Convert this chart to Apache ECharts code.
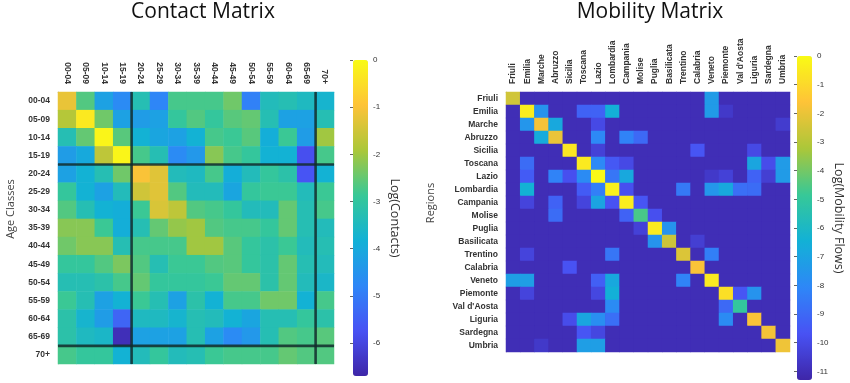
<!DOCTYPE html>
<html>
<head>
<meta charset="utf-8">
<script src="https://cdn.jsdelivr.net/npm/echarts@6/dist/echarts.min.js"></script>
<style>
  html, body { margin: 0; padding: 0; background: #ffffff; }
  #chart { width: 850px; height: 383px; }
</style>
</head>
<body>
<div id="chart"></div>
<script>
// ---------- data ----------
const ageClasses = ['00-04','05-09','10-14','15-19','20-24','25-29','30-34','35-39','40-44','45-49','50-54','55-59','60-64','65-69','70+'];
const regions = ['Friuli','Emilia','Marche','Abruzzo','Sicilia','Toscana','Lazio','Lombardia','Campania','Molise','Puglia','Basilicata','Trentino','Calabria','Veneto','Piemonte',"Val d'Aosta",'Liguria','Sardegna','Umbria'];

// Log(Contacts), rows = age class (top to bottom), columns = age class (left to right)
const contacts = [
  [-1.2,-2.65,-4.2,-4.7,-3.3,-4.8,-2.75,-2.75,-2.75,-2.4,-4.9,-3.4,-3.3,-3.5,-3.7],
  [-1.8,-0.3,-2.4,-4.2,-4.3,-4.2,-2.95,-2.65,-2.95,-2.6,-2.5,-3.3,-4.2,-4.2,-3.3],
  [-3.3,-2.5,-0.1,-2.6,-3.8,-4.1,-4.2,-3.8,-2.75,-2.85,-2.6,-3.9,-2.85,-4.3,-2.0],
  [-4.3,-4.0,-1.7,-0.1,-2.75,-3.3,-4.7,-4.4,-2.2,-2.75,-2.95,-3.8,-3.8,-5.8,-2.75],
  [-4.2,-3.8,-3.3,-2.4,-1.0,-1.3,-3.4,-3.5,-2.75,-3.9,-3.4,-2.95,-3.15,-5.7,-3.8],
  [-2.95,-3.8,-4.2,-3.4,-1.5,-1.3,-2.65,-3.4,-3.4,-4.1,-2.95,-2.85,-2.85,-3.4,-2.85],
  [-2.65,-3.3,-3.8,-3.9,-2.85,-1.4,-1.7,-2.65,-2.75,-2.95,-3.4,-3.4,-2.5,-3.3,-2.75],
  [-2.2,-2.2,-2.85,-3.9,-3.3,-2.5,-2.1,-2.0,-2.65,-2.75,-2.75,-2.95,-2.5,-3.3,-3.4],
  [-2.4,-2.2,-2.2,-3.3,-2.75,-2.75,-2.75,-2.0,-2.0,-2.6,-2.95,-3.15,-2.85,-3.4,-3.3],
  [-2.95,-2.95,-2.65,-2.3,-2.65,-3.3,-2.85,-2.85,-2.65,-2.6,-2.95,-3.15,-2.5,-3.3,-3.4],
  [-3.3,-3.3,-3.15,-2.75,-2.5,-2.95,-2.95,-2.95,-2.85,-2.5,-2.5,-3.15,-2.5,-3.4,-3.6],
  [-2.85,-3.3,-4.2,-3.8,-2.85,-3.3,-4.2,-3.15,-3.8,-2.75,-2.75,-2.4,-2.4,-3.8,-2.75],
  [-3.15,-3.7,-4.3,-5.4,-3.5,-3.5,-3.7,-3.3,-3.4,-3.8,-4.1,-3.3,-3.3,-2.95,-3.15],
  [-3.15,-3.5,-3.6,-6.5,-4.2,-4.2,-4.2,-3.3,-4.2,-4.7,-4.4,-3.3,-2.65,-2.75,-2.6],
  [-2.75,-2.95,-2.95,-3.8,-3.4,-2.95,-3.4,-3.3,-2.85,-2.75,-2.75,-2.75,-2.5,-2.65,-2.65]
];

// Log(Mobility Flows), rows = origin region (top to bottom), columns = region (left to right)
const mobility = [
  [-2.5,-11,-11,-11,-11,-11,-11,-11,-11,-11,-11,-11,-11,-11,-7.3,-11,-11,-11,-11,-11],
  [-11,-0.4,-7.6,-11,-11,-9.2,-9.2,-6.5,-11,-11,-11,-11,-11,-11,-7.3,-10.6,-11,-11,-11,-11],
  [-11,-7.5,-1.8,-6.8,-11,-11,-10.0,-11,-11,-11,-11,-11,-11,-11,-11,-11,-11,-11,-11,-10.5],
  [-11,-11,-6.7,-2.0,-11,-11,-8.0,-11,-8.2,-9.0,-11,-11,-11,-11,-11,-11,-11,-11,-11,-11],
  [-11,-11,-11,-11,-0.6,-11,-10.3,-11,-11,-11,-11,-11,-11,-9.6,-11,-11,-11,-10.0,-11,-11],
  [-11,-8.9,-11,-11,-11,-0.5,-8.0,-9.5,-10.0,-11,-11,-11,-11,-11,-11,-11,-11,-6.9,-9.9,-7.3],
  [-11,-9.4,-11,-8.2,-9.8,-7.9,-0.1,-8.6,-6.8,-11,-11,-11,-11,-11,-10.6,-10.3,-11,-9.2,-10.4,-7.3],
  [-11,-6.4,-11,-11,-11,-9.4,-8.3,-0.3,-9.8,-11,-11,-11,-8.5,-11,-7.5,-6.8,-8.8,-8.9,-11,-11],
  [-11,-10.2,-11,-9.2,-11,-10.2,-7.0,-9.7,-0.4,-9.6,-11,-11,-11,-11,-11,-11,-11,-11,-11,-11],
  [-11,-11,-11,-8.9,-11,-11,-11,-11,-9.2,-4.6,-9.8,-11,-11,-11,-11,-11,-11,-11,-11,-11],
  [-11,-11,-11,-11,-11,-11,-11,-11,-11,-10.3,-0.5,-7.6,-11,-11,-11,-11,-11,-11,-11,-11],
  [-11,-11,-11,-11,-11,-11,-11,-11,-11,-11,-7.6,-2.6,-11,-10.4,-11,-11,-11,-11,-11,-11],
  [-11,-10.2,-11,-11,-11,-11,-11,-8.6,-11,-11,-11,-11,-2.3,-11,-8.3,-11,-11,-11,-11,-11],
  [-11,-11,-11,-11,-9.7,-11,-11,-11,-11,-11,-11,-11,-11,-1.7,-11,-11,-11,-11,-11,-11],
  [-7.2,-7.2,-11,-11,-11,-11,-9.3,-6.8,-11,-11,-11,-11,-8.2,-11,-0.5,-11,-11,-11,-11,-11],
  [-11,-10.2,-11,-11,-11,-11,-10.1,-6.5,-11,-11,-11,-11,-11,-11,-11,-0.8,-9.6,-7.6,-11,-11],
  [-11,-11,-11,-11,-11,-11,-11,-7.9,-11,-11,-11,-11,-11,-11,-11,-9.0,-5.0,-11,-11,-11],
  [-11,-11,-11,-11,-9.9,-6.9,-7.8,-8.8,-11,-11,-11,-11,-11,-11,-11,-7.9,-11,-1.7,-11,-11],
  [-11,-11,-11,-11,-11,-9.6,-10.1,-11,-11,-11,-11,-11,-11,-11,-11,-11,-11,-11,-1.8,-11],
  [-11,-11,-10.6,-11,-11,-7.2,-7.2,-11,-11,-11,-11,-11,-11,-11,-11,-11,-11,-11,-11,-1.9]
];

// colour-scale ranges
const contactRange = [-6.7, 0];
const mobilityRange = [-11.3, 0];
// positions (in cells) of the thick divider lines on the contact matrix
const contactDividers = [4, 14];

// ---------- build ----------
const parula = ['#3e26a8','#4852f4','#2e87f7','#12b1d6','#37c897','#abc739','#fec338','#f9fb15'];

function toCells(matrix) {
  const out = [];
  matrix.forEach((row, r) => row.forEach((v, c) => out.push([c, r, v])));
  return out;
}

const labelFont = 'Liberation Sans, Arial, sans-serif';
const nameFont = 'Open Sans, sans-serif';

const catX = (data, gridIndex) => ({
  type: 'category', gridIndex, data, position: 'top',
  axisLine: { show: true, lineStyle: { color: '#c8c8c8', width: 1 } },
  axisTick: { show: true, inside: true, length: 2, alignWithLabel: true, lineStyle: { color: '#666' } },
  axisLabel: { rotate: -90, fontSize: 8.5, fontWeight: 'bold', color: '#333', fontFamily: labelFont, margin: 8, interval: 0 },
  splitLine: { show: false }
});
const catY = (data, gridIndex, name, nameGap) => ({
  type: 'category', gridIndex, data, inverse: true,
  name, nameLocation: 'middle', nameGap, nameRotate: 90,
  nameTextStyle: { fontSize: 11, color: '#444', fontFamily: nameFont, padding: [0, 0, 0, 38] },
  axisLine: { show: true, lineStyle: { color: '#c8c8c8', width: 1 } },
  axisTick: { show: true, inside: true, length: 2, alignWithLabel: true, lineStyle: { color: '#666' } },
  axisLabel: { fontSize: 8.5, fontWeight: 'bold', color: '#333', fontFamily: labelFont, margin: 8, interval: 0 },
  splitLine: { show: false }
});
const barAxis = (gridIndex, range, name, splitNumber) => ({
  type: 'value', gridIndex, min: range[0], max: range[1], position: 'right', splitNumber,
  name, nameLocation: 'middle', nameRotate: -90, nameGap: 20,
  nameTextStyle: { fontSize: 12.5, color: '#333', fontFamily: nameFont },
  axisLine: { show: false },
  axisTick: { show: true, inside: true, length: 3, lineStyle: { color: '#666' } },
  axisLabel: { fontSize: 8, color: '#333', fontFamily: labelFont, margin: 5, showMinLabel: false,
               formatter: v => String(Math.round(v)) },
  splitLine: { show: false }
});

const dividerSeries = [];
contactDividers.forEach(d => {
  dividerSeries.push({ type: 'line', xAxisIndex: 1, yAxisIndex: 1, data: [[d, 0], [d, ageClasses.length]] });
  dividerSeries.push({ type: 'line', xAxisIndex: 1, yAxisIndex: 1, data: [[0, d], [ageClasses.length, d]] });
});
dividerSeries.forEach(s => {
  s.symbol = 'none'; s.silent = true; s.clip = false; s.z = 5;
  s.lineStyle = { color: 'rgba(18,42,44,0.85)', width: 2.6 };
});

const option = {
  animation: false,
  backgroundColor: '#ffffff',
  title: [
    { text: 'Contact Matrix', left: 203, top: 2, textAlign: 'center', padding: 0,
      textStyle: { fontSize: 21, fontWeight: 'normal', color: '#111', fontFamily: nameFont } },
    { text: 'Mobility Matrix', left: 650, top: 2, textAlign: 'center', padding: 0,
      textStyle: { fontSize: 21, fontWeight: 'normal', color: '#111', fontFamily: nameFont } }
  ],
  grid: [
    { left: 58, top: 92, width: 276, height: 272 },
    { left: 506, top: 92, width: 284, height: 260, show: true, backgroundColor: '#402eb6', borderWidth: 0 },
    { left: 353, top: 60, width: 15, height: 316 },
    { left: 797, top: 56, width: 15, height: 324 }
  ],
  xAxis: [
    catX(ageClasses, 0),
    { type: 'value', gridIndex: 0, min: 0, max: ageClasses.length, show: false },
    catX(regions, 1),
    { type: 'value', gridIndex: 2, min: 0, max: 1, show: false },
    { type: 'value', gridIndex: 3, min: 0, max: 1, show: false }
  ],
  yAxis: [
    catY(ageClasses, 0, 'Age Classes', 42),
    { type: 'value', gridIndex: 0, min: 0, max: ageClasses.length, inverse: true, show: false },
    catY(regions, 1, 'Regions', 70),
    barAxis(2, contactRange, 'Log(Contacts)', 7),
    barAxis(3, mobilityRange, 'Log(Mobility Flows)', 12)
  ],
  visualMap: [
    { type: 'continuous', seriesIndex: 0, min: contactRange[0], max: contactRange[1],
      calculable: false, hoverLink: false, orient: 'vertical', left: 353, top: 60,
      itemWidth: 15, itemHeight: 316, padding: 0, text: null, showLabel: false,
      inRange: { color: parula } },
    { type: 'continuous', seriesIndex: 1, min: mobilityRange[0], max: mobilityRange[1],
      calculable: false, hoverLink: false, orient: 'vertical', left: 797, top: 56,
      itemWidth: 15, itemHeight: 324, padding: 0, text: null, showLabel: false,
      inRange: { color: parula } }
  ],
  series: [
    { type: 'heatmap', xAxisIndex: 0, yAxisIndex: 0, data: toCells(contacts),
      itemStyle: { borderWidth: 0 }, emphasis: { disabled: true } },
    { type: 'heatmap', xAxisIndex: 2, yAxisIndex: 2, data: toCells(mobility),
      itemStyle: { borderWidth: 0 }, emphasis: { disabled: true } }
  ].concat(dividerSeries)
};

const chart = echarts.init(document.getElementById('chart'), null, { renderer: 'canvas' });
chart.setOption(option);
</script>
</body>
</html>
